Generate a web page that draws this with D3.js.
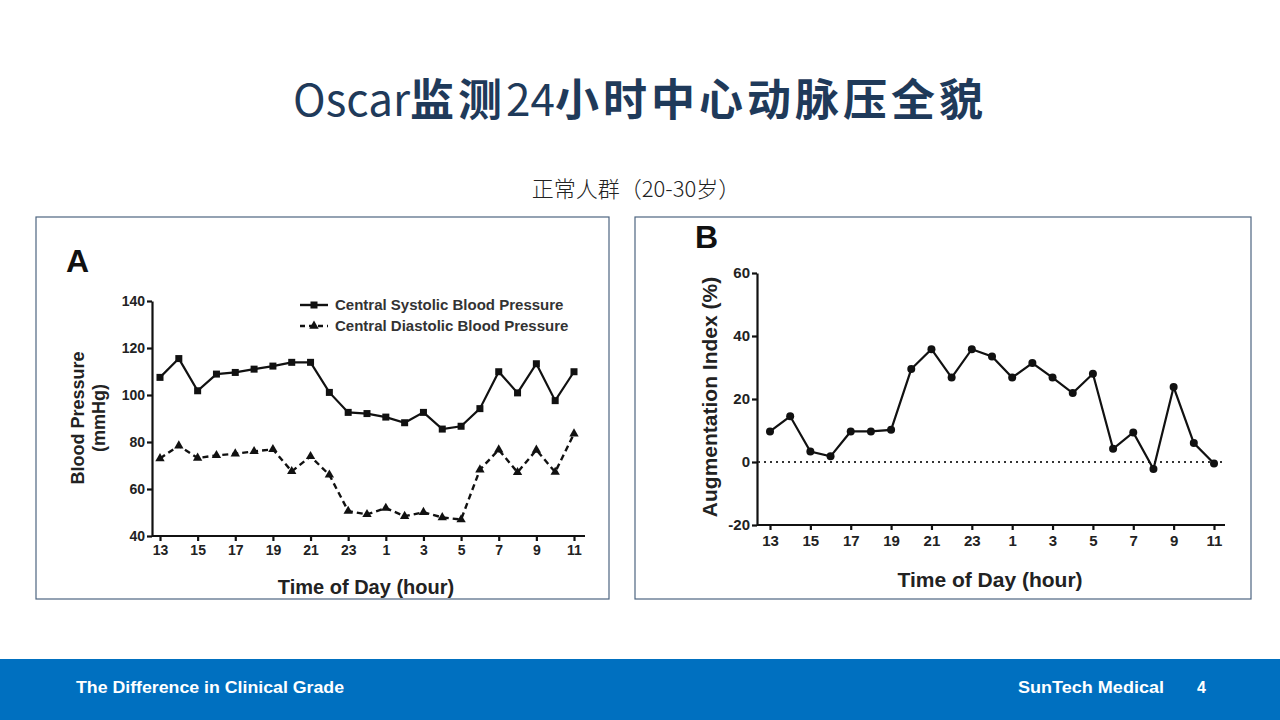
<!DOCTYPE html>
<html><head><meta charset="utf-8">
<script src="https://cdn.jsdelivr.net/npm/d3@7"></script>
<style>
html,body{margin:0;padding:0;background:#fff;}
svg text{font-family:"Liberation Sans",Arial,sans-serif;}
</style></head>
<body>
<svg id="c" width="1280" height="720"></svg>
<script>
const hours = ["13","14","15","16","17","18","19","20","21","22","23","0","1","2","3","4","5","6","7","8","9","10","11"];
const systolic = [107.5,115.5,101.8,108.9,109.6,111,112.3,113.9,113.9,101.1,92.6,92.1,90.6,88.2,92.6,85.5,86.7,94.2,109.9,100.9,113.3,97.6,109.9];
const diastolic = [73.0,78.4,73.2,74.3,75,76,76.9,67.5,73.9,66,50.6,49.2,51.9,48.4,50.1,47.9,47,68.2,76.7,67.1,76.6,67.2,83.5];
const aix = [9.7,14.5,3.3,1.8,9.7,9.7,10.2,29.5,35.8,26.8,35.8,33.5,26.8,31.4,26.8,21.9,28,4.2,9.4,-2.2,23.8,6,-0.5];
const bpTicks = [40,60,80,100,120,140];
const aixTicks = [-20,0,20,40,60];
const hourLabels = hours.filter((h,i)=>i%2===0);
const legendLabels = ["Central Systolic Blood Pressure","Central Diastolic Blood Pressure"];
const titleParts = [["Oscar","normal","0px"],["监测","bold","4px"],["24","normal","0px"],["小时中心动脉压全貌","bold","4px"]];

const svg = d3.select("#c");

// Title
const t = svg.append("text").attr("x",640).attr("y",116).attr("text-anchor","middle")
  .style("font-family","'Noto Sans CJK SC','Noto Sans',sans-serif").style("font-size","44px")
  .attr("fill","#1f3a5a");
titleParts.forEach(p=>t.append("tspan").style("font-weight",p[1]).style("letter-spacing",p[2]).text(p[0]));
svg.append("text").attr("x",636).attr("y",197).attr("text-anchor","middle")
  .style("font-family","'Noto Sans CJK SC','Noto Sans',sans-serif").style("font-size","22px")
  .style("font-weight","300").attr("fill","#222").text("正常人群（20-30岁）");

// Panel frames
svg.append("rect").attr("x",36).attr("y",217).attr("width",573).attr("height",382)
  .attr("fill","#fff").attr("stroke","#4d6580").attr("stroke-width",1.2);
svg.append("rect").attr("x",635).attr("y",217).attr("width",616).attr("height",382)
  .attr("fill","#fff").attr("stroke","#4d6580").attr("stroke-width",1.2);

function styleAxis(g, fs){
  g.selectAll(".domain").attr("stroke","#111").attr("stroke-width",2.2);
  g.selectAll(".tick line").attr("stroke","#111").attr("stroke-width",2.2);
  g.selectAll(".tick text").attr("fill","#222").style("font-size",fs+"px").style("font-weight","bold");
}

// ---------- Panel A ----------
svg.append("text").attr("x",66).attr("y",272).style("font-size","32px").style("font-weight","bold").attr("fill","#111").text("A");
const xA = d3.scalePoint().domain(hours).range([160,574]);
const yA = d3.scaleLinear().domain([40,140]).range([536,301]);

const gyA = svg.append("g").attr("transform","translate(152,0)")
  .call(d3.axisLeft(yA).tickValues(bpTicks).tickFormat(d=>String(d)).tickSize(5).tickPadding(2).tickSizeOuter(0));
styleAxis(gyA,14);
const gxA = svg.append("g").attr("transform","translate(0,536)")
  .call(d3.axisBottom(xA).tickValues(hourLabels).tickSize(5).tickPadding(4).tickSizeOuter(0));
gxA.select(".domain").attr("d","M152,0H585");
styleAxis(gxA,14);

svg.append("text").attr("transform","translate(84,418) rotate(-90)").attr("text-anchor","middle")
  .style("font-size","18px").style("font-weight","bold").attr("fill","#222").text("Blood Pressure");
svg.append("text").attr("transform","translate(105,418) rotate(-90)").attr("text-anchor","middle")
  .style("font-size","18px").style("font-weight","bold").attr("fill","#222").text("(mmHg)");
svg.append("text").attr("x",366).attr("y",594).attr("text-anchor","middle")
  .style("font-size","20px").style("font-weight","bold").attr("fill","#222").text("Time of Day (hour)");

const lineA = d3.line().x((d,i)=>xA(hours[i])).y(d=>yA(d));
svg.append("path").datum(systolic).attr("d",lineA).attr("fill","none").attr("stroke","#111").attr("stroke-width",2.2);
svg.append("path").datum(diastolic).attr("d",lineA).attr("fill","none").attr("stroke","#111").attr("stroke-width",2.4).attr("stroke-dasharray","6,4");
svg.selectAll(".sq").data(systolic).enter().append("rect")
  .attr("x",(d,i)=>xA(hours[i])-3.5).attr("y",d=>yA(d)-3.5).attr("width",7).attr("height",7).attr("fill","#111");
const tri = d3.symbol().type(d3.symbolTriangle).size(38);
svg.selectAll(".tr").data(diastolic).enter().append("path")
  .attr("d",tri).attr("transform",(d,i)=>`translate(${xA(hours[i])},${yA(d)})`).attr("fill","#111");

// legend
const lg = [{y:305,dash:null},{y:326,dash:"5,4"}];
lg.forEach((l,k)=>{
  svg.append("line").attr("x1",300).attr("x2",328).attr("y1",l.y).attr("y2",l.y)
    .attr("stroke","#111").attr("stroke-width",2.4).attr("stroke-dasharray",l.dash);
  if(k===0) svg.append("rect").attr("x",310.5).attr("y",l.y-3.5).attr("width",7).attr("height",7).attr("fill","#111");
  else svg.append("path").attr("d",tri).attr("transform",`translate(314,${l.y})`).attr("fill","#111");
  svg.append("text").attr("x",335).attr("y",l.y+5).style("font-size","15px").style("font-weight","bold")
    .attr("fill","#333").text(legendLabels[k]);
});

// ---------- Panel B ----------
svg.append("text").attr("x",695).attr("y",248).style("font-size","32px").style("font-weight","bold").attr("fill","#111").text("B");
const xB = d3.scalePoint().domain(hours).range([770,1214]);
const yB = d3.scaleLinear().domain([-20,60]).range([525,273]);

const gyB = svg.append("g").attr("transform","translate(757,0)")
  .call(d3.axisLeft(yB).tickValues(aixTicks).tickFormat(d=>String(d)).tickSize(5).tickPadding(2).tickSizeOuter(0));
styleAxis(gyB,15);
const gxB = svg.append("g").attr("transform","translate(0,525)")
  .call(d3.axisBottom(xB).tickValues(hourLabels).tickSize(5).tickPadding(5).tickSizeOuter(0));
gxB.select(".domain").attr("d","M757,0H1225");
styleAxis(gxB,15);

svg.append("text").attr("transform","translate(717,397) rotate(-90)").attr("text-anchor","middle")
  .style("font-size","21px").style("font-weight","bold").attr("fill","#222").text("Augmentation Index (%)");
svg.append("text").attr("x",990).attr("y",587).attr("text-anchor","middle")
  .style("font-size","21px").style("font-weight","bold").attr("fill","#222").text("Time of Day (hour)");

svg.append("line").attr("x1",758).attr("x2",1222).attr("y1",yB(0)).attr("y2",yB(0))
  .attr("stroke","#333").attr("stroke-width",2).attr("stroke-dasharray","2,4");
const lineB = d3.line().x((d,i)=>xB(hours[i])).y(d=>yB(d));
svg.append("path").datum(aix).attr("d",lineB).attr("fill","none").attr("stroke","#111").attr("stroke-width",2.2);
svg.selectAll(".ci").data(aix).enter().append("circle")
  .attr("cx",(d,i)=>xB(hours[i])).attr("cy",d=>yB(d)).attr("r",4).attr("fill","#111");

// ---------- Footer ----------
svg.append("rect").attr("x",0).attr("y",659).attr("width",1280).attr("height",61).attr("fill","#0070c0");
svg.append("text").attr("x",76).attr("y",693).style("font-size","16px").style("font-weight","bold")
  .attr("fill","#fff").attr("textLength",268).attr("lengthAdjust","spacingAndGlyphs").text("The Difference in Clinical Grade");
svg.append("text").attr("x",1018).attr("y",693).style("font-size","16px").style("font-weight","bold")
  .attr("fill","#fff").attr("textLength",146).attr("lengthAdjust","spacingAndGlyphs").text("SunTech Medical");
svg.append("text").attr("x",1197).attr("y",693).style("font-size","16px").style("font-weight","bold")
  .attr("fill","#fff").text("4");
</script>
</body></html>
